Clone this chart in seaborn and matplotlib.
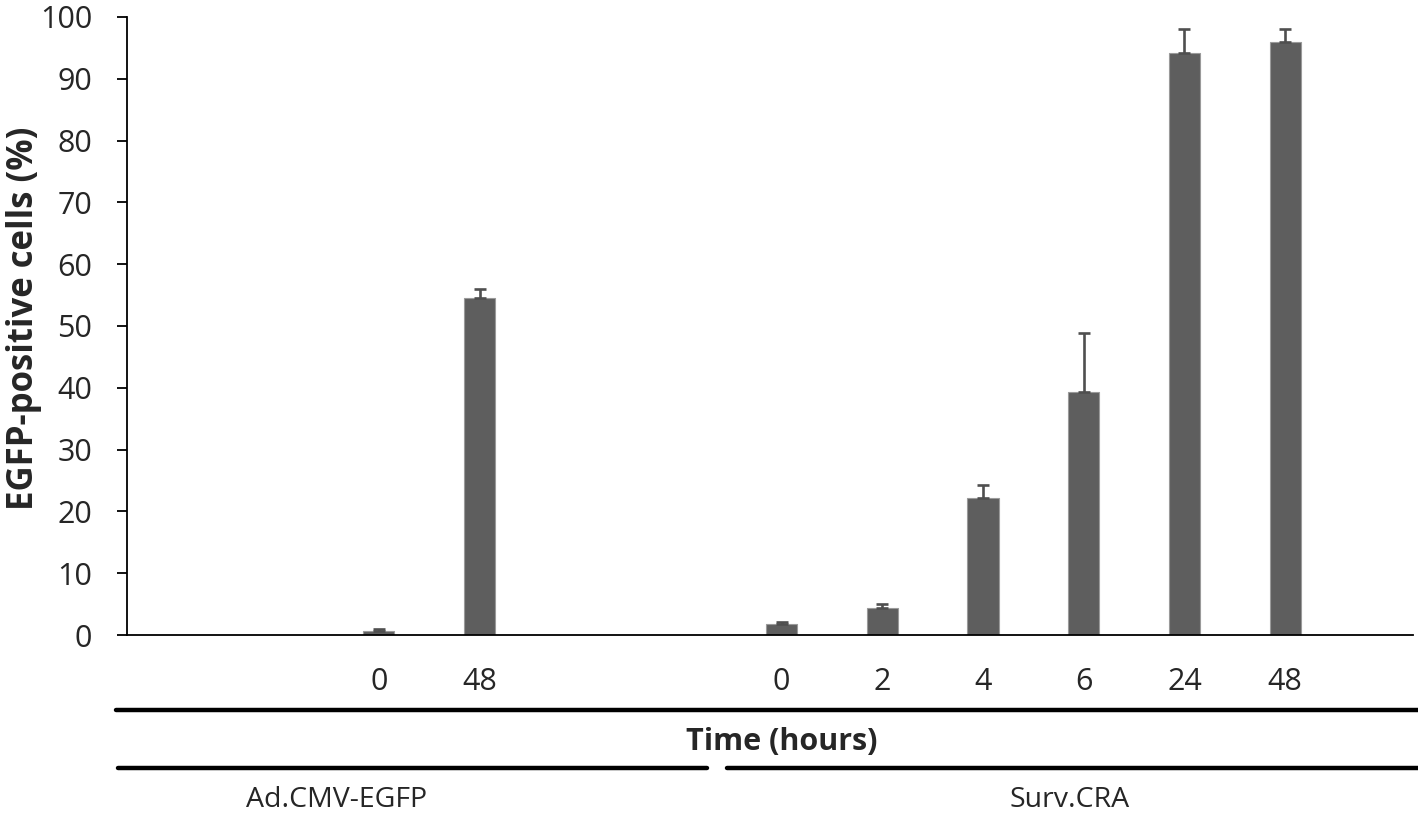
import pandas as pd
import matplotlib
matplotlib.use("Agg")
import matplotlib.pyplot as plt
import seaborn as sns
import numpy as np

# dados
grupos = ['Ad.CMV-EGFP', 'Ad.CMV-EGFP', 'Surv.CRA', 'Surv.CRA', 'Surv.CRA', 'Surv.CRA', 'Surv.CRA', 'Surv.CRA']
tempos = ['0', '48', '0', '2', '4', '6', '24', '48']
valores = [0.6, 54.6, 1.7, 4.3, 22.2, 39.3, 94.1, 96.0]
erros = [0.3, 1.4, 0.35, 0.65, 2.1, 9.6, 4.0, 2.1]

# ordem das categorias no eixo, com espacos vazios entre os grupos
ordem = ['vazio1', 'vazio2', 'Ad 0', 'Ad 48', 'vazio3', 'vazio4',
         'Surv 0', 'Surv 2', 'Surv 4', 'Surv 6', 'Surv 24', 'Surv 48']
rotulos = ['', '', '0', '48', '', '', '0', '2', '4', '6', '24', '48']

chaves = ['Ad 0', 'Ad 48', 'Surv 0', 'Surv 2', 'Surv 4', 'Surv 6', 'Surv 24', 'Surv 48']
df = pd.DataFrame({'chave': chaves, 'grupo': grupos, 'tempo': tempos,
                   'valor': valores, 'erro': erros})

cinza_barra = '#5e5e5e'
cinza_erro = '#4f4f4f'
preto = '#000000'

sns.set_theme(style="white")
plt.rcParams['font.family'] = ['Open Sans', 'DejaVu Sans']

fig = plt.figure(figsize=(14.18, 8.25), dpi=100)
ax = fig.add_axes([0.0896, 0.2303, 0.9069, 0.7491])

sns.barplot(ax=ax, data=df, x='chave', y='valor', order=ordem, color=cinza_barra,
            saturation=1, width=0.31, errorbar=None, edgecolor='#9a9a9a', linewidth=0.8)

pos = [ordem.index(c) for c in df['chave']]
ax.errorbar(pos, df['valor'], yerr=[np.zeros(len(df)), df['erro']], fmt='none',
            ecolor=cinza_erro, elinewidth=1.9, capsize=4.5, capthick=1.9)

ax.set_ylim(0, 100)
ax.set_xlim(-0.5, 12.27)
ax.set_yticks(np.arange(0, 101, 10))
ax.set_xticks(range(len(ordem)))
ax.set_xticklabels(rotulos)
ax.tick_params(axis='y', which='major', left=True, length=7, width=1.3, color=preto,
               labelsize=22, pad=18)
ax.tick_params(axis='x', which='major', bottom=False, labelsize=22, pad=17)
ax.set_xlabel('')
ax.set_ylabel('')

for lado in ['top', 'right']:
    ax.spines[lado].set_visible(False)
for lado in ['left', 'bottom']:
    ax.spines[lado].set_color(preto)
    ax.spines[lado].set_linewidth(1.3)

fig.text(0.017, 0.6145, 'EGFP-positive cells (%)', rotation=90, ha='center', va='center',
         fontsize=25, fontweight='bold')

# linhas e rotulos dos grupos abaixo do eixo
fig.add_artist(plt.Line2D([0.0818, 1.0], [0.1394, 0.1394], color=preto, lw=3.2))
fig.text(0.5515, 0.1006, 'Time (hours)', ha='center', va='center', fontsize=22, fontweight='bold')
fig.add_artist(plt.Line2D([0.0832, 0.4986], [0.069, 0.069], color=preto, lw=3.2))
fig.add_artist(plt.Line2D([0.5127, 1.0], [0.069, 0.069], color=preto, lw=3.2))
fig.text(0.237, 0.030, 'Ad.CMV-EGFP', ha='center', va='center', fontsize=20.5)
fig.text(0.7546, 0.030, 'Surv.CRA', ha='center', va='center', fontsize=20.5)

fig.savefig('out.png', dpi=100)
